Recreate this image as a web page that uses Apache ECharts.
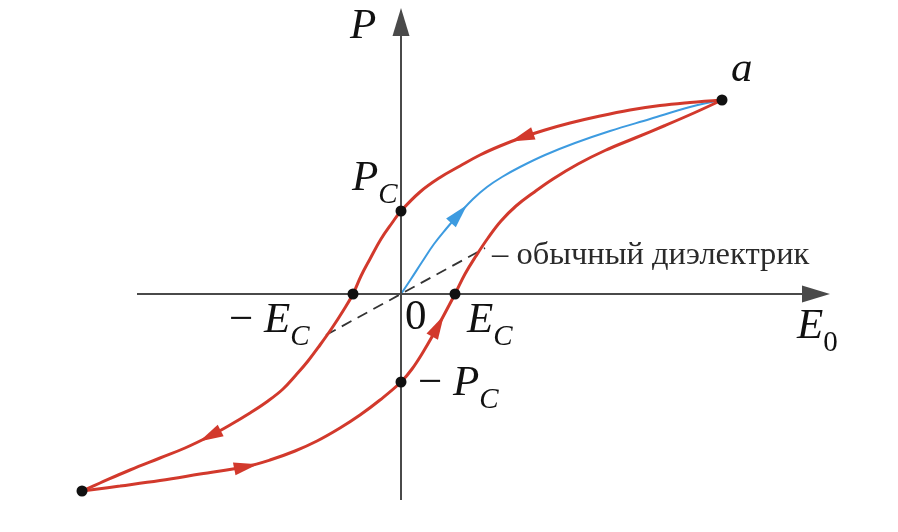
<!DOCTYPE html>
<html><head><meta charset="utf-8">
<script src="https://cdn.jsdelivr.net/npm/echarts@6/dist/echarts.min.js"></script>
<style>html,body{margin:0;padding:0;background:#fff}#c{width:898px;height:532px}</style>
</head><body><div id="c"></div>
<script>
// ---- data (E0 horizontal, P vertical), diagram units ----
// visible extent of the drawn axes
const xAxisSpan = [-26.4, 41.5];
const yAxisSpan = [-20.6, 27.2];
// plotting window
const xRange = [-34.1, 45.7];
const yRange = [-23.8, 29.4];

// upper branch: from point a down to the negative tip
const upperBranch = [
  [32.1,19.4],[28.9,19.15],[25.9,18.85],[22.9,18.4],[19.9,17.8],[16.9,17.1],[14.4,16.4],
  [12.1,15.65],[9.9,14.8],[7.9,13.9],[5.9,12.8],[3.9,11.65],[1.9,10.2],[0,8.3],
  [-0.9,7.1],[-2.0,5.5],[-3.1,3.5],[-4.0,1.8],[-4.8,0],[-5.8,-1.7],[-6.9,-3.4],
  [-8.1,-5.1],[-9.3,-6.7],[-10.5,-8.1],[-11.8,-9.5],[-13.3,-10.7],[-15.1,-11.9],
  [-17.1,-13.1],[-19.1,-14.2],[-21.6,-15.4],[-24.1,-16.4],[-27.1,-17.6],[-30.1,-18.9],
  [-31.9,-19.7]
];
// lower branch: from the negative tip back up to point a
const lowerBranch = [
  [-31.9,-19.7],[-28.1,-19.2],[-24.1,-18.65],[-20.1,-18.0],[-15.5,-17.25],[-13.1,-16.6],
  [-10.6,-15.7],[-8.4,-14.7],[-6.1,-13.4],[-4.1,-12.1],[-2.1,-10.6],[0,-8.8],[1.1,-7.5],
  [2.3,-5.65],[3.7,-3.2],[5.4,0],[6.4,2.0],[7.5,3.8],[8.7,5.6],[10.0,7.3],[11.5,8.8],
  [13.2,10.1],[15.2,11.5],[17.7,13.0],[20.4,14.35],[23.4,15.6],[26.4,16.85],[29.4,18.15],
  [32.1,19.4]
];
// initial polarization curve (blue): origin to a
const initialCurve = [
  [0,0],[1.0,1.5],[2.1,3.2],[3.3,5.0],[4.5,6.5],[5.8,8.0],[7.2,9.5],[8.6,10.7],[10.1,11.7],
  [11.9,12.7],[14.4,13.9],[17.4,15.1],[20.9,16.3],[24.9,17.5],[28.9,18.7],[32.1,19.4]
];
// ordinary dielectric (dashed straight line)
const ordinaryDielectric = [[-7.5,-4.1],[8.4,4.6]];

// arrow positions (indices into the curves)
const upperArrowIdx = [7, 28];
const lowerArrowIdx = [4, 14];
const initialArrowIdx = [5];

// key points and their labels
const keyPoints = [[32.1,19.4],[0,8.3],[0,-8.8],[-4.8,0],[5.4,0],[-31.9,-19.7]];
const keyLabels = ['{m|a}', '{m|P}{s|C}', '{r|− }{m|P}{s|C}', '{r|− }{m|E}{s|C}', '{m|E}{s|C}', ''];
const originLabel = '{r|0}';
const xAxisName = '{m|E}{n|0}';
const yAxisName = '{m|P}';
const dielectricText = '– обычный диэлектрик';

// ---- styles ----
const RED = '#d2392c', BLUE = '#3d9be0', INK = '#111111', AXIS = '#4a4a4a';
const SERIF = '"Liberation Serif", "DejaVu Serif", serif';
const tok = (extra) => Object.assign({fontFamily: SERIF, color: INK, textBorderWidth: 0, opacity: 1}, extra);
const rich = {
  m: tok({fontStyle: 'italic', fontSize: 43, lineHeight: 43}),
  r: tok({fontSize: 43, lineHeight: 43}),
  s: tok({fontStyle: 'italic', fontSize: 29, lineHeight: 29, padding: [32,0,0,0]}),
  n: tok({fontSize: 29, lineHeight: 29, padding: [32,0,0,0]})
};
// label placement per key point [dx, dy] (left edge, vertical centre)
const labelOffsets = [[9,-30],[-49,-32],[17,2],[-124,27],[12,27],[0,0]];

function textLabel(text, offset) {
  return {show: !!text, formatter: text, position: 'inside', align: 'left', verticalAlign: 'middle',
    offset: offset, color: INK, opacity: 1, textBorderWidth: 0, textShadowBlur: 0, rich: rich};
}

const chart = echarts.init(document.getElementById('c'), null, {renderer: 'canvas'});

function curve(data, color, width, z) {
  return {type: 'line', data: data, smooth: 0.4, showSymbol: false,
    clip: false, silent: true, lineStyle: {color: color, width: width}, z: z};
}
const hiddenAxis = {axisLine: {show: false}, axisTick: {show: false}, axisLabel: {show: false}, splitLine: {show: false}};

const baseOption = {
  animation: false,
  backgroundColor: '#fff',
  grid: {left: 60, right: 40, top: 0, bottom: 0},
  xAxis: Object.assign({type: 'value', min: xRange[0], max: xRange[1]}, hiddenAxis),
  yAxis: Object.assign({type: 'value', min: yRange[0], max: yRange[1]}, hiddenAxis),
  series: [
    // coordinate axes with arrow heads, plus axis names
    {type: 'scatter', silent: true, symbolSize: 0, z: 1, itemStyle: {color: INK, opacity: 1}, data: [
      {value: [xAxisSpan[1], 0], label: textLabel(xAxisName, [-19, 33])},
      {value: [0, yAxisSpan[1]], label: textLabel(yAxisName, [-51, 5])}
    ],
      markLine: {silent: true, animation: false, symbol: ['none', 'triangle'], symbolSize: [17, 28],
        lineStyle: {color: AXIS, width: 2, type: 'solid', opacity: 1}, label: {show: false},
        data: [
          [{coord: [xAxisSpan[0], 0]}, {coord: [xAxisSpan[1], 0]}],
          [{coord: [0, yAxisSpan[0]]}, {coord: [0, yAxisSpan[1]]}]
        ]}
    },
    {type: 'line', data: ordinaryDielectric, showSymbol: false, clip: false, silent: true,
      lineStyle: {color: '#333', width: 1.8, type: [11, 7]}, z: 2,
      endLabel: {show: true, formatter: dielectricText, distance: 7, offset: [0, 7],
        fontFamily: SERIF, fontSize: 32.5, color: '#2a2a2a', textBorderWidth: 0}},
    curve(initialCurve, BLUE, 2, 3),
    curve(upperBranch, RED, 3, 3),
    curve(lowerBranch, RED, 3, 3),
    {type: 'scatter', clip: false, silent: true, symbolSize: 11, itemStyle: {color: '#111', opacity: 1}, z: 6,
      data: keyPoints.map((p, i) => ({value: p, label: textLabel(keyLabels[i], labelOffsets[i])}))},
    {type: 'scatter', clip: false, silent: true, symbolSize: 0, itemStyle: {color: INK, opacity: 1}, z: 6,
      data: [{value: [0, 0], label: textLabel(originLabel, [4, 24])}]}
  ]
};
chart.setOption(baseOption);

// arrow heads oriented along the curves (direction from neighbouring points)
function arrowsFor(c, idxs, color) {
  return idxs.map(i => {
    const a = chart.convertToPixel({gridIndex: 0}, c[i - 1]);
    const b = chart.convertToPixel({gridIndex: 0}, c[i + 1]);
    const ang = Math.atan2(-(b[1] - a[1]), b[0] - a[0]) * 180 / Math.PI;
    return {value: c[i], symbolRotate: ang - 90, itemStyle: {color: color, opacity: 1}};
  });
}
const arrowData = [].concat(
  arrowsFor(upperBranch, upperArrowIdx, RED),
  arrowsFor(lowerBranch, lowerArrowIdx, RED),
  arrowsFor(initialCurve, initialArrowIdx, BLUE)
);
chart.setOption({series: baseOption.series.concat([
  {type: 'scatter', clip: false, silent: true, symbol: 'triangle', symbolSize: [13, 24], z: 5,
    itemStyle: {opacity: 1}, data: arrowData}
])});
</script>
</body></html>
